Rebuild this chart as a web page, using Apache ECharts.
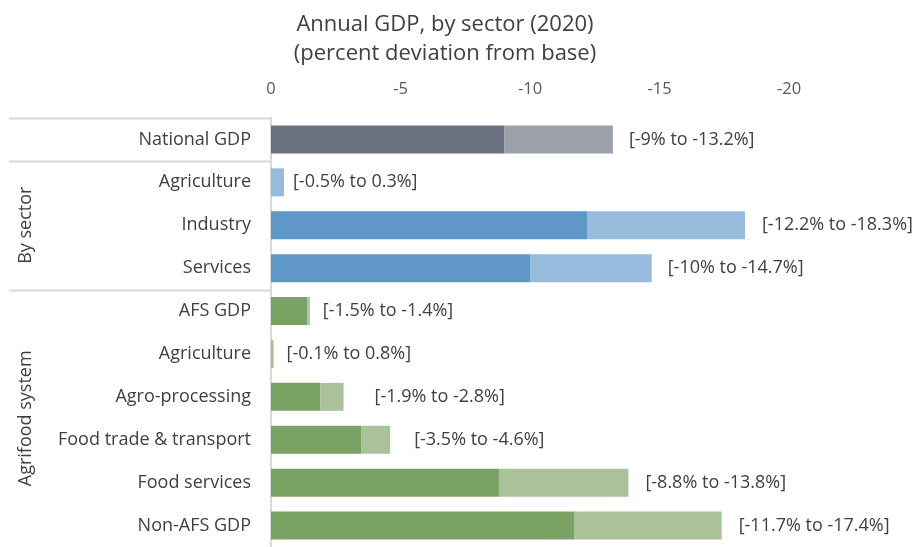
<!DOCTYPE html>
<html>
<head>
<meta charset="utf-8">
<script src="https://cdn.jsdelivr.net/npm/echarts@6/dist/echarts.min.js"></script>
<style>html,body{margin:0;padding:0;background:#fff}#c{width:921px;height:547px}</style>
</head>
<body>
<div id="c"></div>
<script>
var categories = ["National GDP", "Agriculture", "Industry", "Services", "AFS GDP", "Agriculture", "Agro-processing", "Food trade & transport", "Food services", "Non-AFS GDP"];
// bar segments (percent deviation from base)
var darkValues = [-9, 0, -12.2, -10, -1.4, 0, -1.9, -3.5, -8.8, -11.7];
var fullValues = [-13.2, -0.5, -18.3, -14.7, -1.5, -0.1, -2.8, -4.6, -13.8, -17.4];
// range shown in labels
var rangeFrom = ["-9", "-0.5", "-12.2", "-10", "-1.5", "-0.1", "-1.9", "-3.5", "-8.8", "-11.7"];
var rangeTo = ["-13.2", "0.3", "-18.3", "-14.7", "-1.4", "0.8", "-2.8", "-4.6", "-13.8", "-17.4"];
var groupOf = [0, 1, 1, 1, 2, 2, 2, 2, 2, 2];
var groupNames = ["By sector", "Agrifood system"];
var groupSpans = [[1, 3], [4, 9]];
var xTicks = [0, -5, -10, -15, -20];

var darkColors = ["#697180", "#5f98c8", "#7aa264"];
var lightColors = ["#9ca1a9", "#97bbdd", "#a9c29a"];
var labelGap = [16, 9, 17, 16, 13, 13, 31, 24, 17, 17];
var FONT = "'Open Sans', sans-serif";

var chart = echarts.init(document.getElementById('c'), null, {renderer: 'canvas'});
var darkData = darkValues.map(function (v, i) {
  return {value: v, itemStyle: {color: darkColors[groupOf[i]]}};
});
var lightData = fullValues.map(function (v, i) {
  return {
    value: +(v - darkValues[i]).toFixed(2),
    itemStyle: {color: lightColors[groupOf[i]]},
    label: {distance: labelGap[i]}
  };
});

var GRID_TOP = 118, GRID_BOTTOM = 0;
chart.setOption({
  animation: false,
  title: {
    text: 'Annual GDP, by sector (2020)\n(percent deviation from base)',
    left: 440, top: 5, textAlign: 'center',
    textStyle: {fontFamily: FONT, fontSize: 22, fontWeight: 'normal', color: '#404040', lineHeight: 29}
  },
  grid: {left: 271, right: 132, top: GRID_TOP, bottom: GRID_BOTTOM},
  xAxis: {
    type: 'value', position: 'top', inverse: true,
    min: xTicks[xTicks.length - 1], max: xTicks[0], interval: 5,
    axisLine: {show: false}, axisTick: {show: false}, splitLine: {show: false},
    axisLabel: {color: '#595959', fontFamily: FONT, fontSize: 16.5, margin: 20}
  },
  yAxis: {
    type: 'category', inverse: true, data: categories,
    axisLine: {show: true, lineStyle: {color: '#d9d9d9', width: 2}},
    axisTick: {show: false},
    axisLabel: {color: '#404040', fontFamily: FONT, fontSize: 18, margin: 20}
  },
  series: [
    {type: 'bar', stack: 's', data: darkData, barWidth: 28, silent: true},
    {type: 'bar', stack: 's', data: lightData, barWidth: 28, silent: true,
      label: {show: true, position: 'right', color: '#404040', fontFamily: FONT, fontSize: 18,
        formatter: function (p) { return '[' + rangeFrom[p.dataIndex] + '% to ' + rangeTo[p.dataIndex] + '%]'; }}}
  ]
});

var band = (547 - GRID_TOP - GRID_BOTTOM) / categories.length;
function yb(i) { return GRID_TOP + i * band; }
var graphics = [];
[0, 1, 4].forEach(function (i) {
  var y = Math.round(yb(i)) + 0.5;
  graphics.push({type: 'line', shape: {x1: 9, y1: y, x2: 271, y2: y}, style: {stroke: '#d9d9d9', lineWidth: 2}, silent: true});
});
groupNames.forEach(function (name, g) {
  var cy = (yb(groupSpans[g][0]) + yb(groupSpans[g][1] + 1)) / 2;
  graphics.push({type: 'text', x: 26, y: cy, rotation: Math.PI / 2,
    style: {text: name, fill: '#404040', font: '18px ' + FONT, textAlign: 'center', textVerticalAlign: 'middle'}, silent: true});
});
chart.setOption({graphic: graphics});
</script>
</body>
</html>
